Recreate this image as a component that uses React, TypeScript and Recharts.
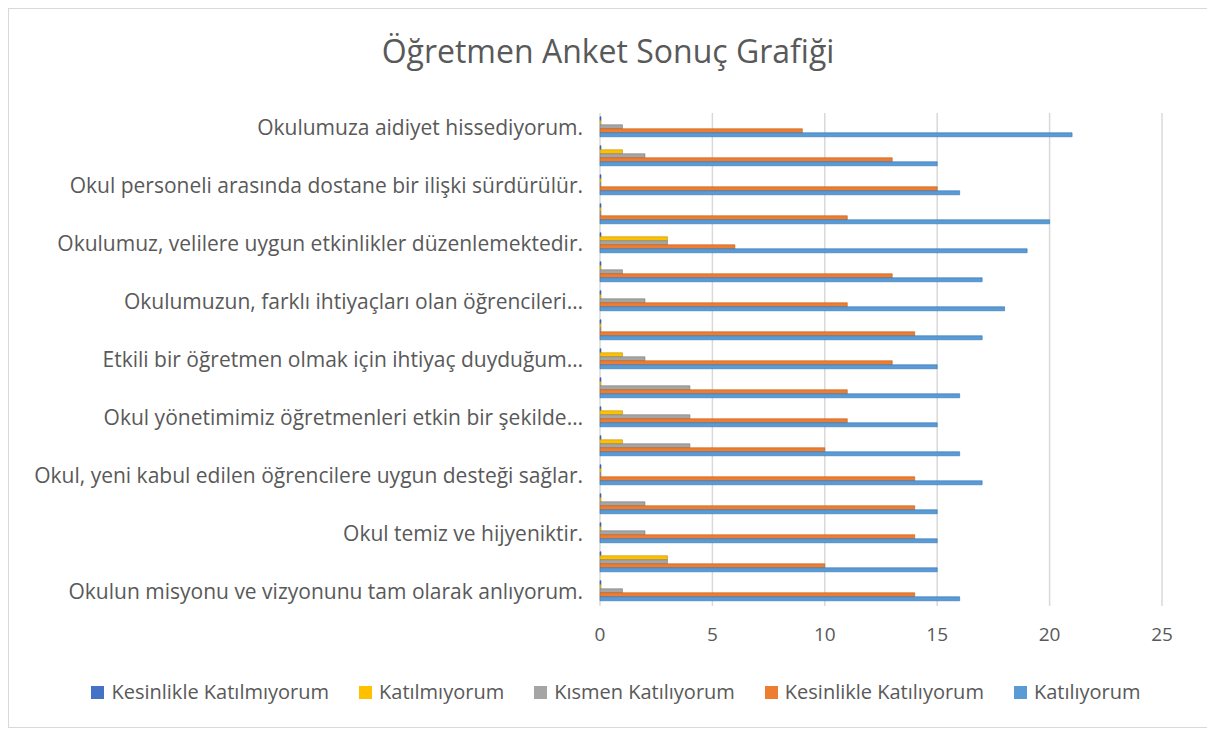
import React from 'react';
import { BarChart, Bar, XAxis, YAxis, CartesianGrid } from 'recharts';

// rows listed top to bottom, as they appear in the chart
const questions = [
  'Okulumuza aidiyet hissediyorum.',
  'Madde 2',
  'Okul personeli arasında dostane bir ilişki sürdürülür.',
  'Madde 4',
  'Okulumuz, velilere uygun etkinlikler düzenlemektedir.',
  'Madde 6',
  'Okulumuzun, farklı ihtiyaçları olan öğrencileri…',
  'Madde 8',
  'Etkili bir öğretmen olmak için ihtiyaç duyduğum…',
  'Madde 10',
  'Okul yönetimimiz öğretmenleri etkin bir şekilde…',
  'Madde 12',
  'Okul, yeni kabul edilen öğrencilere uygun desteği sağlar.',
  'Madde 14',
  'Okul temiz ve hijyeniktir.',
  'Madde 16',
  'Okulun misyonu ve vizyonunu tam olarak anlıyorum.'
];

const kesinlikleKatilmiyorum = [0, 0, 0, 0, 0, 0, 0, 0, 0, 0, 0, 0, 0, 0, 0, 0, 0];
const katilmiyorum = [0, 1, 0, 0, 3, 0, 0, 0, 1, 0, 1, 1, 0, 0, 0, 3, 0];
const kismenKatiliyorum = [1, 2, 0, 0, 3, 1, 2, 0, 2, 4, 4, 4, 0, 2, 2, 3, 1];
const kesinlikleKatiliyorum = [9, 13, 15, 11, 6, 13, 11, 14, 13, 11, 11, 10, 14, 14, 14, 10, 14];
const katiliyorum = [21, 15, 16, 20, 19, 17, 18, 17, 15, 16, 15, 16, 17, 15, 15, 15, 16];

const xTicks = [0, 5, 10, 15, 20, 25];

const series = [
  { key: 'kk', name: 'Kesinlikle Katılmıyorum', color: '#4472C4', edge: '#2F5597', values: kesinlikleKatilmiyorum },
  { key: 'k', name: 'Katılmıyorum', color: '#FFC000', edge: '#BF9000', values: katilmiyorum },
  { key: 'km', name: 'Kısmen Katılıyorum', color: '#A5A5A5', edge: '#7B7B7B', values: kismenKatiliyorum },
  { key: 'kka', name: 'Kesinlikle Katılıyorum', color: '#ED7D31', edge: '#C55A11', values: kesinlikleKatiliyorum },
  { key: 'ka', name: 'Katılıyorum', color: '#5B9BD5', edge: '#2E75B6', values: katiliyorum }
];

const data = questions.map((q, i) => {
  const row: Record<string, string | number> = { question: q };
  series.forEach((s) => {
    row[s.key] = s.values[i];
  });
  return row;
});

const textColor = '#595959';

export default function App() {
  return (
    <div
      style={{
        position: 'relative',
        width: 1200,
        height: 720,
        boxSizing: 'border-box',
        border: '1px solid #d9d9d9',
        background: '#fff',
        fontFamily: '"Open Sans", sans-serif'
      }}
    >
      <div
        style={{
          position: 'absolute',
          top: 20,
          left: 0,
          width: '100%',
          textAlign: 'center',
          fontSize: 32,
          lineHeight: '44px',
          color: textColor
        }}
      >
        Öğretmen Anket Sonuç Grafiği
      </div>

      <BarChart
        width={1198}
        height={718}
        data={data}
        layout="vertical"
        margin={{ top: 104, right: 45, bottom: 81, left: 0 }}
        barCategoryGap="13%"
        barGap={0}
      >
        <CartesianGrid horizontal={false} stroke="#d9d9d9" strokeWidth={1.5} />
        <XAxis
          type="number"
          domain={[0, 25]}
          ticks={xTicks}
          axisLine={false}
          tickLine={false}
          tickSize={0}
          tickMargin={22}
          height={40}
          tick={{ fill: textColor, fontSize: 19 }}
        />
        <YAxis
          type="category"
          dataKey="question"
          width={591}
          interval={1}
          axisLine={false}
          tickLine={false}
          tickSize={0}
          tickMargin={17}
          tick={{ fill: textColor, fontSize: 21 }}
        />
        {series.map((s) => (
          <Bar
            key={s.key}
            dataKey={s.key}
            name={s.name}
            fill={s.color}
            stroke={s.edge}
            strokeWidth={0.6}
            minPointSize={1}
            isAnimationActive={false}
          />
        ))}
      </BarChart>

      <div
        style={{
          position: 'absolute',
          top: 670,
          left: 0,
          width: '100%',
          boxSizing: 'border-box',
          paddingLeft: 16,
          display: 'flex',
          justifyContent: 'center',
          gap: 30,
          fontSize: 20,
          lineHeight: '26px',
          color: textColor
        }}
      >
        {series.map((s) => (
          <span key={s.key} style={{ display: 'flex', alignItems: 'center' }}>
            <span style={{ width: 13, height: 13, background: s.color, marginRight: 7 }} />
            {s.name}
          </span>
        ))}
      </div>
    </div>
  );
}
